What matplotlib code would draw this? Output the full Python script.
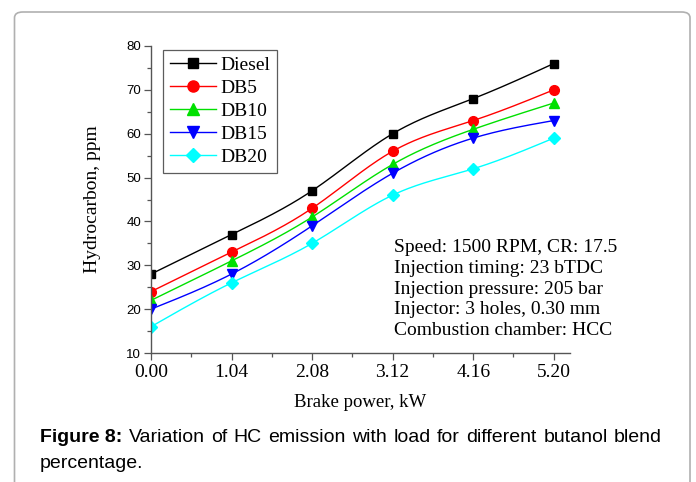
import numpy as np
import matplotlib
matplotlib.use("Agg")
import matplotlib.pyplot as plt
from matplotlib.patches import FancyBboxPatch

# data
power = [0.00, 1.04, 2.08, 3.12, 4.16, 5.20]
diesel = [28, 37, 47, 60, 68, 76]
db5 = [24, 33, 43, 56, 63, 70]
db10 = [22, 31, 41, 53, 61, 67]
db15 = [20, 28, 39, 51, 59, 63]
db20 = [16, 26, 35, 46, 52, 59]

labels = ["Diesel", "DB5", "DB10", "DB15", "DB20"]
colors = ["black", "#ff0000", "#00e000", "#0000ff", "#00ffff"]
markers = ["s", "o", "^", "v", "D"]
msizes = [6, 7, 7, 7, 6]

SERIF = "Liberation Serif"
SANS = "Liberation Sans"


def spline(x, y, n=200):
    # natural cubic spline, only used to draw the smooth connecting line
    x = np.asarray(x, float)
    y = np.asarray(y, float)
    h = np.diff(x)
    m = len(x)
    A = np.zeros((m, m))
    b = np.zeros(m)
    A[0, 0] = A[-1, -1] = 1
    for i in range(1, m - 1):
        A[i, i - 1] = h[i - 1]
        A[i, i] = 2 * (h[i - 1] + h[i])
        A[i, i + 1] = h[i]
        b[i] = 6 * ((y[i + 1] - y[i]) / h[i] - (y[i] - y[i - 1]) / h[i - 1])
    M = np.linalg.solve(A, b)
    xs = np.linspace(x[0], x[-1], n)
    idx = np.clip(np.searchsorted(x, xs) - 1, 0, m - 2)
    x0, x1 = x[idx], x[idx + 1]
    hh = x1 - x0
    t0, t1 = x1 - xs, xs - x0
    ys = (M[idx] * t0**3 + M[idx + 1] * t1**3) / (6 * hh) \
        + (y[idx] / hh - M[idx] * hh / 6) * t0 \
        + (y[idx + 1] / hh - M[idx + 1] * hh / 6) * t1
    return xs, ys


fig = plt.figure(figsize=(6.96, 4.82), dpi=100)

# rounded frame around the figure panel
frame = FancyBboxPatch((14.5 / 696, -0.05), (690 - 14.5) / 696, 1.05 - 12 / 482,
                       boxstyle="round,pad=0,rounding_size=0.012",
                       transform=fig.transFigure, fill=False,
                       edgecolor="#b0b0b0", linewidth=1.2)
fig.patches.append(frame)

ax = fig.add_axes([151 / 696, 1 - 353 / 482, (570 - 151) / 696, (353 - 46) / 482])

for ys, lab, c, mk, ms in zip([diesel, db5, db10, db15, db20], labels, colors, markers, msizes):
    xs, yy = spline(power, ys)
    ax.plot(xs, yy, color=c, lw=1.0)
    ax.plot(power, ys, linestyle="none", marker=mk, color=c, markersize=ms)
    ax.plot([], [], color=c, lw=1.0, marker=mk, markersize=ms + 1, label=lab)

ax.set_xlim(0, 5.41)
ax.set_ylim(10, 80)
ax.set_xticks(power)
ax.set_xticklabels([f"{p:.2f}" for p in power], fontfamily=SERIF, fontsize=14)
ax.set_xticks([0.52, 1.56, 2.60, 3.64, 4.68], minor=True)
ax.set_yticks(range(10, 81, 10))
ax.set_yticks(range(15, 80, 10), minor=True)
for t in ax.get_yticklabels():
    t.set_fontfamily(SANS)
    t.set_fontsize(9.5)
ax.tick_params(which="major", length=5, width=0.9, color="#555555")
ax.tick_params(which="minor", length=3, width=0.9, color="#555555")
ax.tick_params(axis="x", pad=3)
ax.tick_params(axis="y", pad=2)

for s in ["top", "right"]:
    ax.spines[s].set_visible(False)
for s in ["left", "bottom"]:
    ax.spines[s].set_color("#555555")
    ax.spines[s].set_linewidth(1.0)

ax.set_xlabel("Brake power, kW", fontfamily=SERIF, fontsize=13.5, labelpad=9)
ax.set_ylabel("Hydrocarbon, ppm", fontfamily=SERIF, fontsize=14, labelpad=18)

leg = ax.legend(loc="upper left", bbox_to_anchor=(0.02, 1.0), prop={"family": SERIF, "size": 14},
                frameon=True, fancybox=False, edgecolor="#333333", handlelength=2.35,
                handletextpad=0.25, labelspacing=0.27, borderpad=0.35, borderaxespad=0.2)
leg.get_frame().set_linewidth(0.9)

notes = ["Speed: 1500 RPM, CR: 17.5",
         "Injection timing: 23 bTDC",
         "Injection pressure: 205 bar",
         "Injector: 3 holes, 0.30 mm",
         "Combustion chamber: HCC"]
ax.text(0.58, 0.37, "\n".join(notes), transform=ax.transAxes, fontfamily=SERIF,
        fontsize=14, va="top", ha="left", linespacing=1.28)

# caption, first line justified between x=40 and x=662 pixels
fig.canvas.draw()
r = fig.canvas.get_renderer()
words = ["Variation", "of", "HC", "emission", "with", "load", "for", "different", "butanol", "blend"]
y1 = 1 - 438 / 482
bold = fig.text(40 / 696, y1, "Figure 8:", fontfamily=SANS, fontsize=14, fontweight="bold", va="center")
objs = [fig.text(0, y1, w, fontfamily=SANS, fontsize=14, va="center") for w in words]
wb = bold.get_window_extent(r).width
ws = [o.get_window_extent(r).width for o in objs]
gap = max((662 - 40 - wb - sum(ws)) / len(words), 3)
x = 40 + wb + gap
for o, w in zip(objs, ws):
    o.set_x(x / 696)
    x += w + gap
fig.text(40 / 696, 1 - 464 / 482, "percentage.", fontfamily=SANS, fontsize=14, va="center")

fig.savefig("out.png", dpi=100)
